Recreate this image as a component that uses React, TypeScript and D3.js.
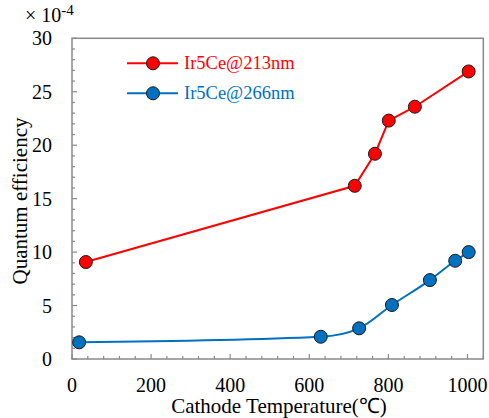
import React from "react";
import * as d3 from "d3";

const tempRed = [35, 715, 766, 801, 867, 1003];
const qeRed = [9.07, 16.2, 19.2, 22.3, 23.6, 26.9];
const tempBlue = [18, 629, 726, 809, 905, 969, 1003];
const qeBlue = [1.56, 2.08, 2.87, 5.05, 7.38, 9.19, 10.0];
const xTicks = [0, 200, 400, 600, 800, 1000];
const yTicks = [0, 5, 10, 15, 20, 25, 30];
const seriesNames = ["Ir5Ce@213nm", "Ir5Ce@266nm"];

const W = 489, H = 418;
const L = 72, R = 483.3, T = 38.3, B = 359;
const FONT = "Liberation Serif";
const AX = "#898989";

export default function App() {
  const x = d3.scaleLinear().domain([0, 1040]).range([L, R]);
  const y = d3.scaleLinear().domain([0, 30]).range([B, T]);
  const minorX = d3.range(0, 1041, 40);
  const minorY = d3.range(0, 31, 1);
  const redPts: [number, number][] = tempRed.map((t, i) => [t, qeRed[i]]);
  const bluePts: [number, number][] = tempBlue.map((t, i) => [t, qeBlue[i]]);
  const lineStraight = d3.line<[number, number]>().x(d => x(d[0])).y(d => y(d[1]));
  const lineSmooth = d3.line<[number, number]>().x(d => x(d[0])).y(d => y(d[1])).curve(d3.curveMonotoneX);
  const series = [
    { pts: redPts, color: "#FF0000", path: lineStraight(redPts), name: seriesNames[0] },
    { pts: bluePts, color: "#0070C0", path: lineSmooth(bluePts), name: seriesNames[1] },
  ];
  const ts = { fontFamily: FONT };
  return (
    <svg width={W} height={H} style={{ position: "absolute", left: 0, top: 0, background: "#fff" }}>
      <rect x={L} y={T} width={R - L} height={B - T} fill="none" stroke={AX} strokeWidth={1.5} />
      {minorX.map(v => (
        <line key={"mx" + v} x1={x(v)} x2={x(v)} y1={B} y2={B - (v % 200 === 0 ? 5 : 3)} stroke={AX} strokeWidth={1.2} />
      ))}
      {minorY.map(v => (
        <line key={"my" + v} x1={L} x2={L + (v % 5 === 0 ? 5 : 3)} y1={y(v)} y2={y(v)} stroke={AX} strokeWidth={1.2} />
      ))}
      {xTicks.map(v => (
        <text key={"xt" + v} style={ts} x={x(v)} y={392} fontSize={20} textAnchor="middle" fill="#000">{v}</text>
      ))}
      {yTicks.map(v => (
        <text key={"yt" + v} style={ts} x={52} y={y(v) + 7} fontSize={20} textAnchor="end" fill="#000">{v}</text>
      ))}
      <text style={ts} x={25} y={22} fontSize={20} fill="#000">× 10<tspan dy={-7} fontSize={15}>-4</tspan></text>
      <text style={ts} transform="translate(27,201) rotate(-90)" fontSize={21} textAnchor="middle" fill="#000">Quantum efficiency</text>
      <text style={ts} x={279} y={413} fontSize={21} textAnchor="middle" fill="#000">Cathode Temperature(℃)</text>
      {series.map((s, i) => (
        <g key={"s" + i}>
          <path d={s.path || ""} fill="none" stroke={s.color} strokeWidth={2} />
          {s.pts.map((p, j) => (
            <circle key={j} cx={x(p[0])} cy={y(p[1])} r={6.5} fill={s.color} stroke="#1a1a1a" strokeWidth={1} />
          ))}
        </g>
      ))}
      {series.map((s, i) => {
        const ly = 63.3 + i * 30;
        return (
          <g key={"lg" + i}>
            <line x1={127} x2={178} y1={ly} y2={ly} stroke={s.color} strokeWidth={2} />
            <circle cx={153} cy={ly} r={6.5} fill={s.color} stroke="#1a1a1a" strokeWidth={1} />
            <text style={ts} x={184} y={ly + 6} fontSize={18.5} fill={s.color}>{s.name}</text>
          </g>
        );
      })}
    </svg>
  );
}
